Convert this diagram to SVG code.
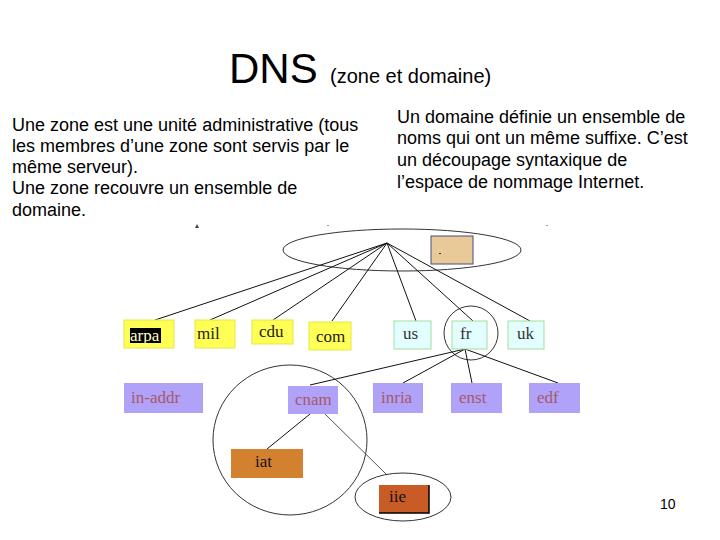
<svg xmlns="http://www.w3.org/2000/svg" width="720" height="540" viewBox="0 0 720 540">
<style>
.sans{font-family:"Liberation Sans",Arial,sans-serif;fill:#000}
.body{font-size:18px}
.lbl{font-family:"Liberation Serif","Times New Roman",serif;font-size:17px}
.yel{fill:#FFFF55;stroke:#E6E64A;stroke-width:1}
.cya{fill:#E2FEFE;stroke:#A6DDA0;stroke-width:1}
.pur{fill:#B0A2F8;stroke:none}
.ln{stroke:#111;stroke-width:1;fill:none}
.zone{fill:none;stroke:#333;stroke-width:1}
</style>
<rect width="720" height="540" fill="#fff"/>
<g id="title">
<text class="sans" x="229" y="83" font-size="42">DNS</text>
<text class="sans" x="330" y="83" font-size="20">(zone et domaine)</text>
</g>
<g id="left-text" class="sans body">
<text x="12" y="131">Une zone est une unité administrative (tous</text>
<text x="12" y="152">les membres d’une zone sont servis par le</text>
<text x="12" y="173">même serveur).</text>
<text x="12" y="194">Une zone recouvre un ensemble de</text>
<text x="12" y="216">domaine.</text>
</g>
<g id="right-text" class="sans body">
<text x="397" y="123">Un domaine définie un ensemble de</text>
<text x="397" y="144">noms qui ont un même suffixe. C’est</text>
<text x="397" y="166">un découpage syntaxique de</text>
<text x="397" y="188">l’espace de nommage Internet.</text>
</g>
<g id="specks" fill="#444">
<polygon points="195,228 197,224 199,228"/>
<rect x="327" y="225" width="2" height="1" fill="#999"/>
<rect x="546" y="225" width="2" height="1" fill="#999"/>
</g>
<g id="zones">
<ellipse cx="402" cy="250" rx="119" ry="21" class="zone"/>
<circle cx="471" cy="333" r="27" class="zone"/>
<ellipse cx="290" cy="440" rx="77" ry="75" class="zone"/>
<ellipse cx="403" cy="497" rx="48" ry="24" class="zone"/>
</g>
<g id="connectors" class="ln">
<line x1="387" y1="243" x2="155" y2="320"/>
<line x1="387" y1="243" x2="210" y2="320"/>
<line x1="387" y1="243" x2="273" y2="320"/>
<line x1="387" y1="243" x2="332" y2="321"/>
<line x1="387" y1="243" x2="416" y2="321"/>
<line x1="387" y1="243" x2="473" y2="321"/>
<line x1="387" y1="243" x2="530" y2="321"/>
<line x1="465" y1="349" x2="310" y2="385"/>
<line x1="465" y1="349" x2="403" y2="383"/>
<line x1="465" y1="349" x2="472" y2="383"/>
<line x1="465" y1="349" x2="558" y2="383"/>
<line x1="310" y1="414" x2="267" y2="449"/>
<line x1="325" y1="414" x2="386" y2="474" stroke="#555"/>
</g>
<g id="root">
<rect x="431" y="236" width="42" height="28" fill="#E8CA98" stroke="#4A4A80" stroke-width="1"/>
<rect x="439" y="253" width="2" height="1" fill="#333"/>
</g>
<g id="arpa">
<rect x="124" y="320" width="50" height="28" class="yel"/>
<rect x="130" y="328" width="31" height="15" fill="#000"/>
<text class="lbl" x="130" y="341" fill="#FFFFC8">arpa</text>
</g>
<g id="mil">
<rect x="195" y="320" width="40" height="28" class="yel"/>
<text class="lbl" x="197" y="339" fill="#222">mil</text>
</g>
<g id="cdu">
<rect x="252" y="320" width="41" height="24" class="yel"/>
<text class="lbl" x="259" y="337" fill="#222">cdu</text>
</g>
<g id="com">
<rect x="309" y="322" width="42" height="28" class="yel"/>
<text class="lbl" x="316" y="342" fill="#222">com</text>
</g>
<g id="us">
<rect x="394" y="321" width="37" height="28" class="cya"/>
<text class="lbl" x="403" y="339" fill="#333">us</text>
</g>
<g id="fr">
<rect x="452" y="321" width="35" height="28" class="cya"/>
<text class="lbl" x="460" y="339" fill="#333">fr</text>
</g>
<g id="uk">
<rect x="508" y="321" width="36" height="28" class="cya"/>
<text class="lbl" x="517" y="339" fill="#333">uk</text>
</g>
<g id="in-addr">
<rect x="124" y="383" width="79" height="30" class="pur"/>
<text class="lbl" x="131" y="403" fill="#A85868">in-addr</text>
</g>
<g id="cnam">
<rect x="288" y="386" width="50" height="28" class="pur"/>
<text class="lbl" x="295" y="405" fill="#A85868">cnam</text>
</g>
<g id="inria">
<rect x="373" y="383" width="50" height="30" class="pur"/>
<text class="lbl" x="381" y="403" fill="#A85868">inria</text>
</g>
<g id="enst">
<rect x="451" y="383" width="51" height="30" class="pur"/>
<text class="lbl" x="459" y="403" fill="#A85868">enst</text>
</g>
<g id="edf">
<rect x="529" y="383" width="51" height="30" class="pur"/>
<text class="lbl" x="537" y="403" fill="#A85868">edf</text>
</g>
<g id="iat">
<rect x="231" y="449" width="72" height="29" fill="#D4812F"/>
<text class="lbl" x="255" y="467" fill="#111">iat</text>
</g>
<g id="iie">
<rect x="379" y="485" width="50" height="28" fill="#C95B27"/>
<polyline points="429,485 429,513 379,513" fill="none" stroke="#000" stroke-width="1.5"/>
<text class="lbl" x="389" y="502" fill="#111">iie</text>
</g>
<g id="page-number">
<text class="sans" x="660" y="509" font-size="14">10</text>
</g>
</svg>
